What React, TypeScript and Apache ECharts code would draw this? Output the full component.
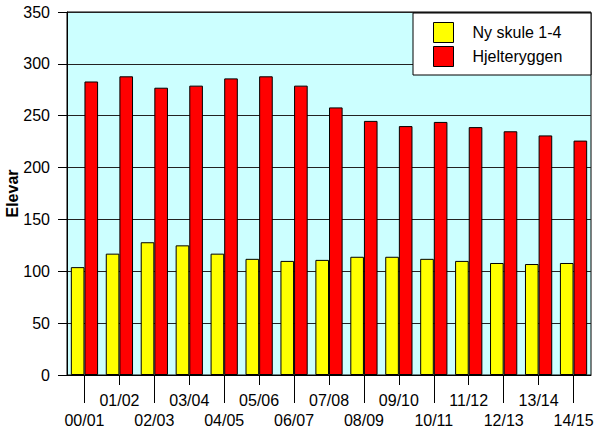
import React, { useEffect, useRef } from "react";
import * as echarts from "echarts";

const categories = [
  "00/01", "01/02", "02/03", "03/04", "04/05", "05/06", "06/07", "07/08",
  "08/09", "09/10", "10/11", "11/12", "12/13", "13/14", "14/15",
];
const nySkule = [104, 117, 128, 125, 117, 112, 110, 111, 114, 114, 112, 110, 108, 107, 108];
const hjelteryggen = [283, 288, 277, 279, 286, 288, 279, 258, 245, 240, 244, 239, 235, 231, 226];
const seriesNames = ["Ny skule 1-4", "Hjelteryggen"];
const yTitle = "Elevar";

const FONT = "Liberation Sans, Arial, Helvetica, sans-serif";

export default function App() {
  const ref = useRef<HTMLDivElement>(null);
  useEffect(() => {
    if (!ref.current) return;
    const chart = echarts.init(ref.current, null, { renderer: "svg" });
    chart.setOption({
      animation: false,
      textStyle: { fontFamily: FONT },
      grid: {
        left: 67,
        right: 3,
        top: 12,
        bottom: 55,
        containLabel: false,
        outerBoundsMode: "none",
        show: true,
        backgroundColor: "#ccffff",
        borderColor: "#000",
        borderWidth: 1,
      },
      graphic: [
        {
          type: "rect",
          z: 10,
          shape: { x: 413, y: 13, width: 178, height: 62 },
          style: { fill: "#fff", stroke: "#000", lineWidth: 1 },
        },
      ],
      legend: {
        orient: "vertical",
        left: 433,
        top: 22,
        z: 20,
        padding: 0,
        itemWidth: 20,
        itemHeight: 20,
        itemGap: 3,
        icon: "rect",
        itemStyle: { borderColor: "#000", borderWidth: 1 },
        formatter: (name: string) => "{a|" + name + "}",
        textStyle: {
          fontFamily: FONT,
          fontSize: 16,
          color: "#000",
          rich: { a: { fontFamily: FONT, fontSize: 16, color: "#000", padding: [0, 0, 0, 14] } },
        },
        data: seriesNames,
      },
      xAxis: [
        {
          type: "category",
          position: "bottom",
          data: categories,
          axisLine: { show: true, lineStyle: { color: "#000", width: 1 } },
          axisTick: {
            show: true,
            alignWithLabel: true,
            length: 28,
            interval: (i: number) => i % 2 === 0,
            lineStyle: { color: "#000" },
          },
          axisLabel: {
            interval: (i: number) => i % 2 === 0,
            margin: 37,
            fontSize: 16,
            color: "#000",
            fontFamily: FONT,
          },
        },
        {
          type: "category",
          position: "bottom",
          data: categories,
          axisLine: { show: false },
          axisTick: {
            show: true,
            alignWithLabel: true,
            length: 10,
            interval: (i: number) => i % 2 === 1,
            lineStyle: { color: "#000" },
          },
          axisLabel: {
            interval: (i: number) => i % 2 === 1,
            margin: 17,
            fontSize: 16,
            color: "#000",
            fontFamily: FONT,
          },
        },
      ],
      yAxis: {
        type: "value",
        min: 0,
        max: 350,
        interval: 50,
        name: yTitle,
        nameLocation: "middle",
        nameGap: 47,
        nameMoveOverlap: false,
        nameTextStyle: { fontSize: 16, fontWeight: "bold", color: "#000", fontFamily: FONT },
        axisLine: { show: true, lineStyle: { color: "#000" } },
        axisTick: { show: true, length: 9, lineStyle: { color: "#000" } },
        axisLabel: { margin: 17, fontSize: 16, color: "#000", fontFamily: FONT },
        splitLine: { show: true, lineStyle: { color: "#222", width: 1 } },
      },
      series: [
        {
          name: seriesNames[0],
          type: "bar",
          xAxisIndex: 0,
          data: nySkule,
          barGap: "0%",
          barCategoryGap: "22%",
          itemStyle: { color: "#ffff00", borderColor: "#000", borderWidth: 1 },
        },
        {
          name: seriesNames[1],
          type: "bar",
          xAxisIndex: 0,
          data: hjelteryggen,
          barGap: "0%",
          barCategoryGap: "22%",
          itemStyle: { color: "#ff0000", borderColor: "#000", borderWidth: 1 },
        },
      ],
    });
    return () => chart.dispose();
  }, []);
  return (
    <div
      ref={ref}
      style={{ position: "absolute", left: 0, top: 0, width: 594, height: 430 }}
    />
  );
}
